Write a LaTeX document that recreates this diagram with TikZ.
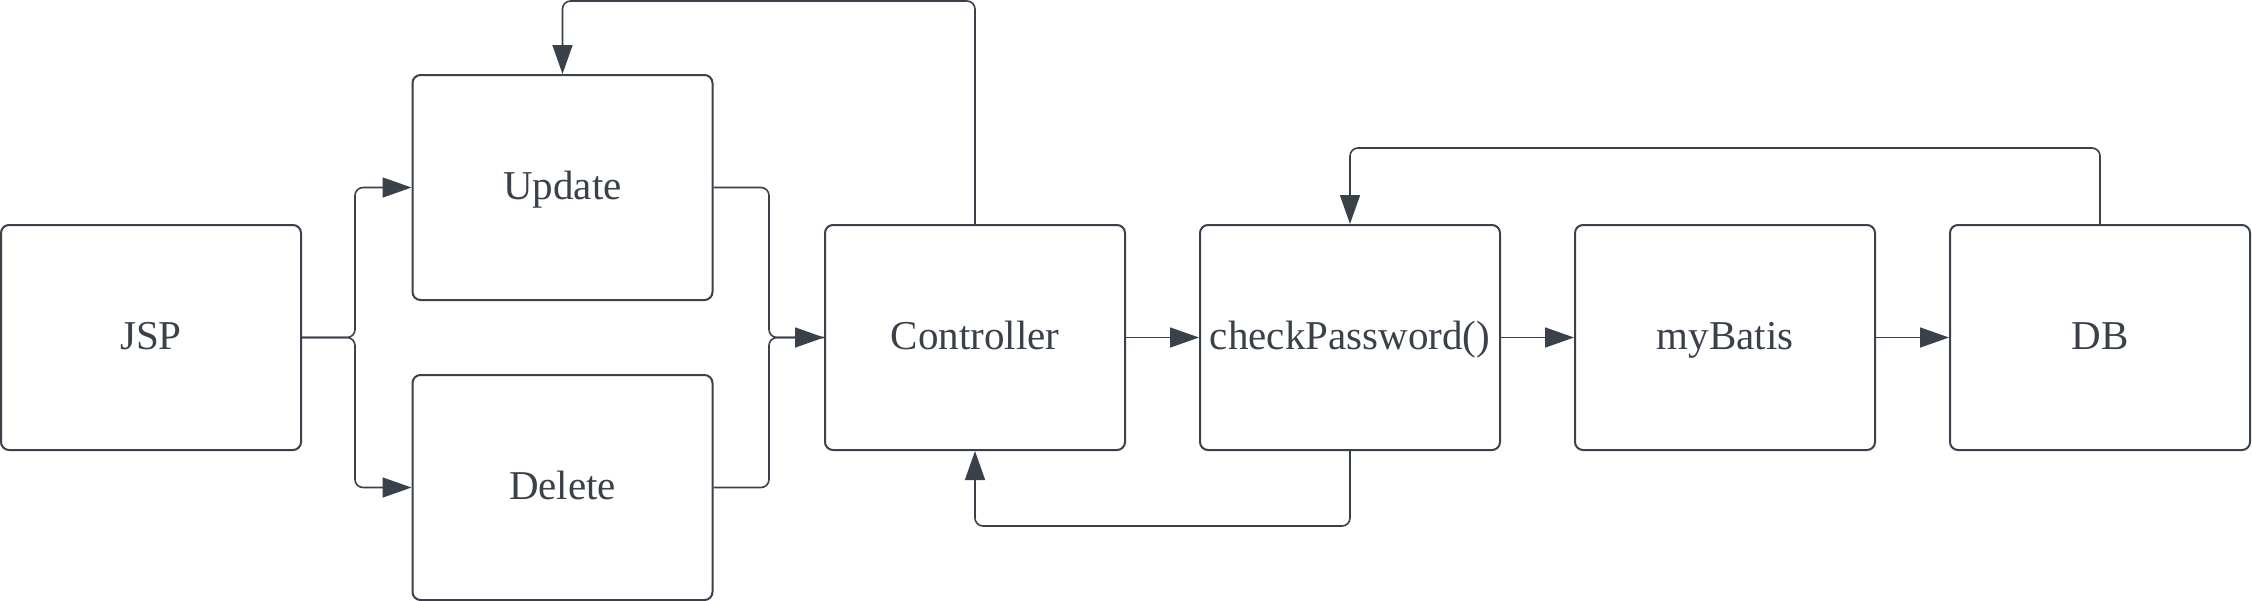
\documentclass[tikz,border=0pt]{standalone}
\usepackage{fontspec}
\setmainfont{Liberation Serif}
\usetikzlibrary{arrows.meta}
\definecolor{ink}{HTML}{3A414A}
\tikzset{
  box/.style={draw=ink, line width=2pt, rounded corners=8pt, minimum width=300pt, minimum height=225pt, inner sep=0pt, text=ink, text height=31pt, text depth=8pt, font=\fontsize{41}{49}\selectfont},
  conn/.style={draw=ink, line width=1.6pt, rounded corners=8pt, -{Triangle[length=29pt,width=20pt]}},
  connp/.style={draw=ink, line width=1.6pt, rounded corners=8pt}
}
\begin{document}
\begin{tikzpicture}[x=1pt,y=-1pt]
\useasboundingbox (0,0) rectangle (2252,600);
\node[box] (jsp) at (151,337.5) {JSP};
\node[box] (upd) at (562.5,187.5) {Update};
\node[box] (del) at (562.5,487.5) {Delete};
\node[box] (ctl) at (975,337.5) {Controller};
\node[box] (chk) at (1350,337.5) {checkPassword()};
\node[box] (myb) at (1725,337.5) {myBatis};
\node[box] (db) at (2100,337.5) {DB};
\coordinate (sp) at (355,337.5);
\coordinate (mg) at (769,337.5);
% JSP to Update / Delete
\draw[conn] (jsp.east) -- (sp) |- (upd.west);
\draw[conn] (jsp.east) -- (sp) |- (del.west);
% Update / Delete to Controller
\draw[connp] (upd.east) -| (mg) -- (ctl.west);
\draw[conn] (del.east) -| (mg) -- (ctl.west);
% Controller back to Update
\coordinate (t1) at (975,1);
\coordinate (t2) at (562.5,1);
\draw[conn] (ctl.north) -- (t1) -- (t2) -- (upd.north);
% chain
\draw[conn] (ctl.east) -- (chk.west);
\draw[conn] (chk.east) -- (myb.west);
\draw[conn] (myb.east) -- (db.west);
% DB back to checkPassword
\coordinate (u1) at (2100,148);
\coordinate (u2) at (1350,148);
\draw[conn] (db.north) -- (u1) -- (u2) -- (chk.north);
% checkPassword back to Controller
\coordinate (b1) at (1350,526);
\coordinate (b2) at (975,526);
\draw[conn] (chk.south) -- (b1) -- (b2) -- (ctl.south);
\end{tikzpicture}
\end{document}
